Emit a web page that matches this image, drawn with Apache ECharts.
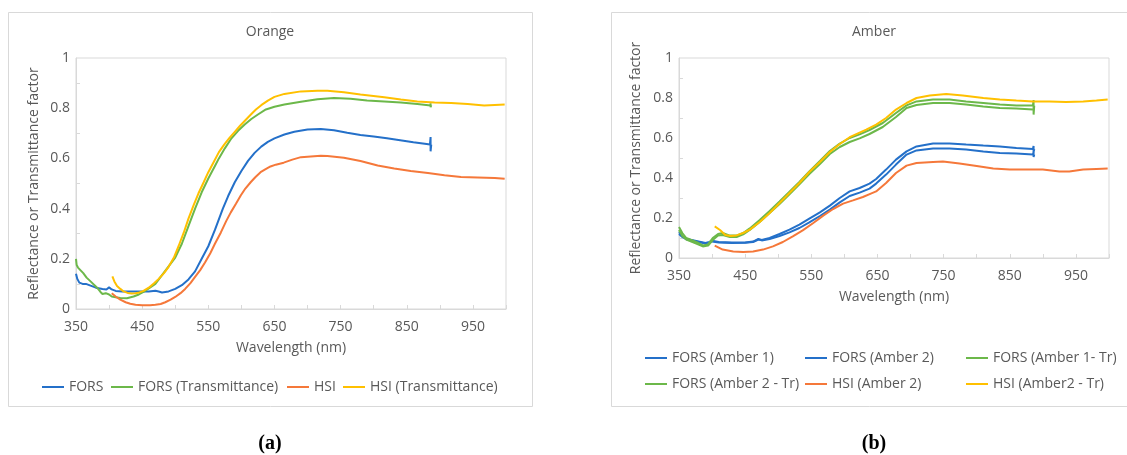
<!DOCTYPE html>
<html>
<head>
<meta charset="utf-8">
<script src="https://cdn.jsdelivr.net/npm/echarts@6/dist/echarts.min.js"></script>
<style>
html,body{margin:0;padding:0;background:#fff;}
#c{width:1127px;height:455px;}
</style>
</head>
<body>
<div id="c"></div>
<script>
// ---------- DATA (wavelength nm, factor) ----------
// (a) Orange
const orangeFORS = [[350,0.14],[352,0.12],[355,0.105],[360,0.10],[365,0.1],[370,0.095],[380,0.085],[390,0.08],[396,0.078],[400,0.086],[404,0.078],[410,0.072],[420,0.07],[440,0.07],[460,0.07],[470,0.073],[475,0.07],[480,0.066],[490,0.07],[500,0.08],[510,0.095],[520,0.118],[530,0.15],[540,0.2],[550,0.25],[560,0.315],[572,0.4],[580,0.45],[590,0.505],[600,0.55],[610,0.59],[620,0.622],[630,0.647],[640,0.666],[650,0.68],[665,0.695],[680,0.706],[700,0.715],[720,0.717],[740,0.712],[760,0.702],[780,0.693],[800,0.687],[820,0.68],[840,0.672],[860,0.664],[880,0.657],[885,0.655],[886,0.685],[886,0.628],[887,0.655]];
const orangeFORSTr = [[350,0.2],[351,0.175],[353,0.165],[356,0.16],[361,0.143],[366,0.125],[372,0.11],[378,0.095],[382,0.085],[387,0.068],[390,0.06],[395,0.063],[400,0.058],[404,0.05],[410,0.047],[417,0.044],[427,0.043],[437,0.05],[445,0.058],[452,0.068],[460,0.082],[470,0.1],[480,0.135],[490,0.17],[500,0.205],[510,0.26],[520,0.33],[530,0.4],[540,0.465],[550,0.52],[560,0.57],[566,0.6],[575,0.64],[585,0.68],[595,0.71],[605,0.735],[615,0.757],[625,0.775],[637,0.795],[650,0.806],[665,0.815],[690,0.826],[715,0.836],[740,0.841],[765,0.838],[790,0.831],[816,0.827],[841,0.823],[866,0.817],[886,0.811],[886,0.82],[886,0.804],[887,0.812]];
const orangeHSI = [[404,0.063],[410,0.05],[417,0.037],[425,0.027],[432,0.021],[440,0.017],[450,0.015],[462,0.015],[470,0.017],[478,0.02],[485,0.027],[493,0.037],[500,0.048],[508,0.063],[515,0.08],[523,0.103],[530,0.128],[538,0.156],[545,0.185],[553,0.222],[560,0.26],[569,0.305],[577,0.35],[584,0.385],[592,0.42],[599,0.452],[606,0.48],[614,0.505],[621,0.525],[629,0.545],[636,0.556],[644,0.568],[652,0.575],[664,0.583],[677,0.595],[690,0.605],[705,0.608],[720,0.611],[730,0.61],[755,0.603],[780,0.59],[806,0.572],[831,0.56],[856,0.55],[882,0.542],[907,0.533],[932,0.526],[957,0.524],[983,0.522],[998,0.519]];
const orangeHSITr = [[405,0.13],[408,0.11],[412,0.092],[417,0.08],[422,0.07],[428,0.064],[434,0.062],[440,0.063],[446,0.066],[452,0.072],[460,0.085],[468,0.103],[475,0.12],[483,0.143],[490,0.168],[498,0.205],[505,0.25],[513,0.305],[520,0.36],[528,0.415],[535,0.46],[543,0.505],[550,0.545],[559,0.59],[566,0.625],[574,0.655],[582,0.682],[590,0.706],[598,0.73],[606,0.752],[614,0.774],[622,0.795],[630,0.812],[640,0.83],[650,0.845],[665,0.857],[690,0.867],[715,0.87],[730,0.87],[755,0.864],[780,0.855],[816,0.844],[841,0.835],[866,0.827],[892,0.823],[917,0.821],[942,0.817],[967,0.811],[983,0.813],[998,0.815]];

// (b) Amber
const amberFORS1 = [[350,0.13],[355,0.11],[362,0.095],[376,0.085],[390,0.075],[396,0.08],[400,0.086],[410,0.08],[430,0.077],[450,0.078],[462,0.082],[470,0.095],[475,0.09],[487,0.1],[502,0.12],[517,0.142],[532,0.167],[547,0.197],[563,0.228],[578,0.262],[593,0.3],[608,0.333],[623,0.35],[638,0.372],[648,0.395],[663,0.442],[678,0.492],[694,0.533],[709,0.558],[734,0.572],[759,0.572],[784,0.567],[810,0.562],[835,0.558],[860,0.55],[885,0.545],[886,0.56],[886,0.53],[887,0.545]];
const amberFORS2 = [[350,0.12],[355,0.105],[362,0.092],[376,0.082],[390,0.073],[396,0.078],[400,0.083],[410,0.078],[430,0.075],[450,0.076],[462,0.08],[470,0.092],[475,0.088],[487,0.095],[502,0.11],[517,0.128],[532,0.15],[547,0.178],[563,0.21],[578,0.242],[593,0.278],[608,0.31],[623,0.327],[638,0.347],[648,0.372],[663,0.417],[678,0.467],[694,0.517],[709,0.538],[734,0.547],[759,0.547],[784,0.542],[810,0.533],[835,0.525],[860,0.522],[885,0.517],[886,0.53],[886,0.505],[887,0.517]];
const amberFORS1Tr = [[350,0.155],[355,0.125],[361,0.1],[376,0.08],[386,0.063],[394,0.068],[401,0.1],[409,0.12],[416,0.125],[427,0.112],[437,0.112],[447,0.125],[457,0.148],[472,0.19],[487,0.235],[502,0.283],[517,0.332],[532,0.38],[547,0.433],[563,0.485],[578,0.535],[593,0.572],[608,0.6],[623,0.618],[638,0.64],[658,0.675],[678,0.725],[694,0.763],[709,0.783],[734,0.792],[759,0.792],[784,0.783],[810,0.775],[835,0.767],[860,0.763],[885,0.762],[886,0.79],[886,0.717],[887,0.762]];
const amberFORS2Tr = [[350,0.14],[355,0.11],[361,0.092],[376,0.072],[386,0.058],[394,0.062],[401,0.09],[409,0.112],[416,0.115],[427,0.105],[437,0.105],[447,0.118],[457,0.14],[472,0.18],[487,0.225],[502,0.27],[517,0.318],[532,0.368],[547,0.42],[563,0.47],[578,0.52],[593,0.555],[608,0.58],[623,0.598],[638,0.62],[658,0.655],[678,0.705],[694,0.75],[709,0.765],[734,0.775],[759,0.775],[784,0.767],[810,0.758],[835,0.75],[860,0.747],[885,0.742]];
const amberHSI2 = [[404,0.062],[416,0.042],[432,0.033],[447,0.03],[462,0.032],[477,0.042],[492,0.058],[507,0.08],[522,0.108],[537,0.138],[553,0.175],[568,0.212],[583,0.245],[598,0.272],[613,0.288],[628,0.305],[640,0.322],[648,0.333],[663,0.375],[678,0.425],[694,0.462],[709,0.475],[734,0.48],[749,0.483],[774,0.472],[800,0.46],[825,0.447],[850,0.442],[875,0.442],[900,0.442],[925,0.433],[940,0.433],[961,0.442],[981,0.445],[998,0.447]];
const amberHSI2Tr = [[404,0.158],[412,0.14],[420,0.115],[428,0.11],[437,0.113],[447,0.125],[457,0.142],[472,0.18],[487,0.225],[502,0.275],[517,0.325],[532,0.375],[547,0.43],[563,0.48],[578,0.53],[593,0.57],[608,0.604],[633,0.642],[648,0.667],[663,0.7],[678,0.742],[694,0.775],[709,0.8],[729,0.812],[754,0.82],[779,0.812],[810,0.8],[835,0.792],[860,0.787],[885,0.783],[910,0.783],[935,0.78],[961,0.783],[981,0.787],[998,0.792]];

const xTicks = [350,450,550,650,750,850,950];
const yTicks = [0,0.2,0.4,0.6,0.8,1];

// ---------- STYLE ----------
const FONT = 'Open Sans';
const TXT = '#595959';
const GRAY = '#D9D9D9';
const BLUE = '#2470C9', GREEN = '#6CB84A', ORANGE = '#F5783A', YELLOW = '#FFC000';

function xAxis(gi){
  return {
    type:'value', gridIndex:gi, min:350, max:1000, interval:50,
    axisLine:{show:true, lineStyle:{color:GRAY}},
    axisTick:{show:true, inside:true, length:4, lineStyle:{color:GRAY}},
    axisLabel:{color:TXT, fontSize:14, fontFamily:FONT, margin:11, showMinLabel:true, showMaxLabel:true,
      formatter:v=> xTicks.indexOf(Math.round(v))>=0 ? String(Math.round(v)) : ''},
    splitLine:{show:false},
    name:'Wavelength (nm)', nameLocation:'middle', nameGap:32,
    nameTextStyle:{color:TXT, fontSize:14, fontFamily:FONT}
  };
}
function yAxis(gi, gap){
  return {
    type:'value', gridIndex:gi, min:0, max:1, interval:0.2,
    axisLine:{show:true, lineStyle:{color:GRAY}},
    axisTick:{show:false, inside:true},
    minorTick:{show:true, splitNumber:2, length:4, lineStyle:{color:GRAY}},
    axisLabel:{color:TXT, fontSize:14, fontFamily:FONT, margin:6,
      formatter:v=>{ const r=Math.round(v*10)/10; return yTicks.indexOf(r)>=0 ? String(r) : ''; }},
    splitLine:{show:false},
    name:'Reflectance or Transmittance factor', nameLocation:'middle', nameGap:gap,
    nameTextStyle:{color:TXT, fontSize:14, fontFamily:FONT}
  };
}
function line(name, data, color, gi){
  return {type:'line', name, data, xAxisIndex:gi, yAxisIndex:gi, symbol:'none', showSymbol:false,
    lineStyle:{width:2, color}, itemStyle:{color}, emphasis:{disabled:true}, silent:true};
}
function leg(name, left, top){
  return {data:[name], left, top, padding:0, icon:'rect', itemWidth:22, itemHeight:2, itemGap:0,
    textStyle:{color:TXT, fontSize:14, fontFamily:FONT}, selectedMode:false};
}

const chart = echarts.init(document.getElementById('c'), null, {renderer:'canvas'});
chart.setOption({
  animation:false,
  backgroundColor:'#fff',
  textStyle:{fontFamily:FONT},
  grid:[
    {left:76, top:58, width:430, height:251, show:true, borderColor:GRAY, borderWidth:1, backgroundColor:'transparent'},
    {left:679, top:58, width:430, height:200, show:true, borderColor:GRAY, borderWidth:1, backgroundColor:'transparent'}
  ],
  xAxis:[xAxis(0), xAxis(1)],
  yAxis:[yAxis(0,35), yAxis(1,36)],
  legend:[
    leg('FORS',42,380), leg('FORS (Transmittance)',111,380), leg('HSI',287,380), leg('HSI (Transmittance)',343,380),
    leg('FORS (Amber 1)',645,351), leg('FORS (Amber 2)',805,351), leg('FORS (Amber 1- Tr)',966,351),
    leg('FORS (Amber 2 - Tr)',645,377), leg('HSI (Amber 2)',805,377), leg('HSI (Amber2 - Tr)',966,377)
  ],
  graphic:[
    {type:'rect', shape:{x:8.5, y:12.5, width:524, height:394}, style:{fill:'none', stroke:GRAY, lineWidth:1}, silent:true},
    {type:'rect', shape:{x:611.5, y:12.5, width:540, height:394}, style:{fill:'none', stroke:GRAY, lineWidth:1}, silent:true},
    {type:'text', x:270, y:32, style:{text:'Orange', fill:TXT, font:'14px "Open Sans"', textAlign:'center', textVerticalAlign:'middle'}},
    {type:'text', x:874, y:32, style:{text:'Amber', fill:TXT, font:'14px "Open Sans"', textAlign:'center', textVerticalAlign:'middle'}},
    {type:'text', x:270, y:444, style:{text:'(a)', fill:'#000', font:'bold 20px "Liberation Serif"', textAlign:'center', textVerticalAlign:'middle'}},
    {type:'text', x:874, y:444, style:{text:'(b)', fill:'#000', font:'bold 20px "Liberation Serif"', textAlign:'center', textVerticalAlign:'middle'}}
  ],
  series:[
    line('FORS', orangeFORS, BLUE, 0),
    line('FORS (Transmittance)', orangeFORSTr, GREEN, 0),
    line('HSI', orangeHSI, ORANGE, 0),
    line('HSI (Transmittance)', orangeHSITr, YELLOW, 0),
    line('FORS (Amber 1)', amberFORS1, BLUE, 1),
    line('FORS (Amber 2)', amberFORS2, BLUE, 1),
    line('FORS (Amber 1- Tr)', amberFORS1Tr, GREEN, 1),
    line('FORS (Amber 2 - Tr)', amberFORS2Tr, GREEN, 1),
    line('HSI (Amber 2)', amberHSI2, ORANGE, 1),
    line('HSI (Amber2 - Tr)', amberHSI2Tr, YELLOW, 1)
  ]
});
</script>
</body>
</html>
